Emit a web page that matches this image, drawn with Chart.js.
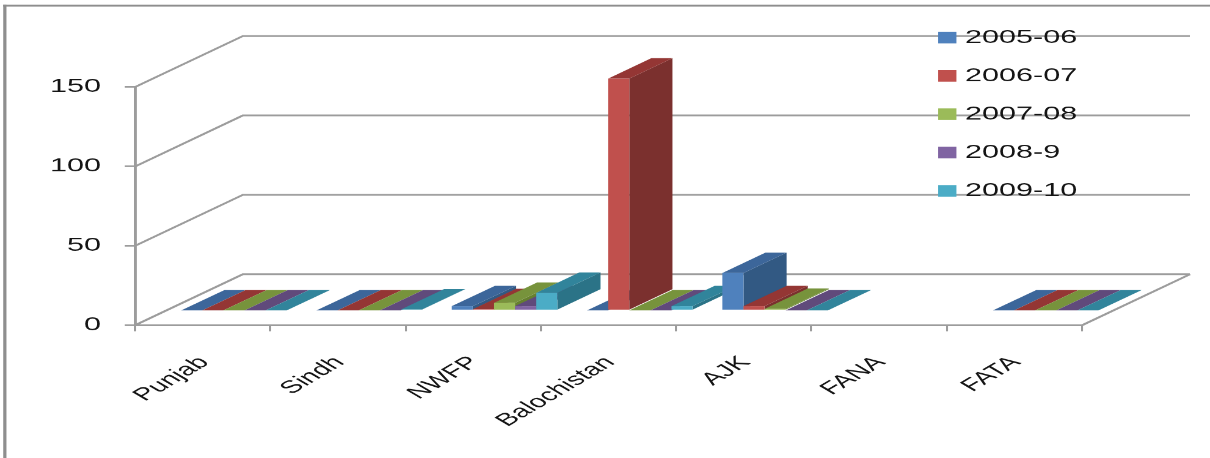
<!DOCTYPE html>
<html>
<head>
<meta charset="utf-8">
<script src="https://cdn.jsdelivr.net/npm/chart.js@4/dist/chart.umd.min.js"></script>
<style>
  html, body { margin: 0; padding: 0; background: #fff; overflow: hidden; }
  #c { display: block; width: 1210px; height: 458px; }
</style>
</head>
<body>
<canvas id="c" width="712" height="458" style="width:1210px;height:458px"></canvas>
<script>
// Provinces / regions on the category axis
const categories = ['Punjab', 'Sindh', 'NWFP', 'Balochistan', 'AJK', 'FANA', 'FATA'];

// Fiscal years (one series each)
const seriesLabels = ['2005-06', '2006-07', '2007-08', '2008-9', '2009-10'];

// Values per region for each year (FANA has no data)
const values0506 = [0, 0, 2.7, 0, 23.6, null, 0];
const values0607 = [0, 0, 0.8, 146, 2.7, null, 0];
const values0708 = [0, 0, 4.8, 0, 1, null, 0];
const values0809 = [0, 0, 2.7, 0, 0, null, 0];
const values0910 = [0, 0.6, 11.1, 2.7, 0, null, 0];

// Value axis ticks
const yTicks = [0, 50, 100, 150];

const seriesValues = [values0506, values0607, values0708, values0809, values0910];

// Face shading: front, top and right side of each column
const frontColors = ['#4F81BD', '#C0504D', '#9BBB59', '#8064A2', '#4BACC6'];
const topColors   = ['#3C669A', '#943634', '#77933C', '#604A7B', '#31849B'];
const sideColors  = ['#325983', '#7B302E', '#66802F', '#523F6A', '#2B7387'];

const GRID = '#9c9c9c';
const TEXT = '#141414';
const FONT_FAMILY = '"Liberation Sans", Arial, sans-serif';

// Oblique projection of the depth axis (canvas units; the canvas is shown 1.7x wider)
const DEPTH_X = 63.5;
const DEPTH_Y = -51;
const BAR_FRONT = 0.29;   // where the column fronts sit along the depth
const BAR_DEPTH = 0.40;   // column thickness along the depth

function poly(ctx, pts) {
  ctx.beginPath();
  ctx.moveTo(pts[0][0], pts[0][1]);
  for (let i = 1; i < pts.length; i++) ctx.lineTo(pts[i][0], pts[i][1]);
  ctx.closePath();
  ctx.fill();
}

// Draws the 3-D walls and the columns from the bar elements laid out by Chart.js
const columns3d = {
  id: 'columns3d',
  beforeDatasetsDraw(chart) {
    const { ctx, chartArea: a, scales: { x, y } } = chart;
    ctx.save();

    // back wall gridlines, left wall diagonals and floor edge
    ctx.strokeStyle = GRID;
    ctx.lineWidth = 1.7;
    ctx.beginPath();
    yTicks.forEach(v => {
      const py = y.getPixelForValue(v);
      ctx.moveTo(a.left, py);
      ctx.lineTo(a.left + DEPTH_X, py + DEPTH_Y);
      ctx.lineTo(a.right + DEPTH_X, py + DEPTH_Y);
    });
    const p0 = y.getPixelForValue(0);
    ctx.moveTo(a.right, p0);
    ctx.lineTo(a.right + DEPTH_X, p0 + DEPTH_Y);
    ctx.stroke();

    // columns, left to right so nearer neighbours cover side faces
    const ox = BAR_FRONT * DEPTH_X, oy = BAR_FRONT * DEPTH_Y;
    const dx = BAR_DEPTH * DEPTH_X, dy = BAR_DEPTH * DEPTH_Y;
    for (let i = 0; i < categories.length; i++) {
      chart.data.datasets.forEach((ds, d) => {
        const el = chart.getDatasetMeta(d).data[i];
        if (!el || ds.data[i] === null || ds.data[i] === undefined) return;
        const p = el.getProps(['x', 'y', 'base', 'width'], true);
        const l = p.x - p.width / 2 + ox;
        const r = p.x + p.width / 2 + ox;
        const t = Math.min(p.y, p.base) + oy;
        const b = Math.max(p.y, p.base) + oy;
        ctx.fillStyle = sideColors[d];
        poly(ctx, [[r, b], [r + dx, b + dy], [r + dx, t + dy], [r, t]]);
        ctx.fillStyle = topColors[d];
        poly(ctx, [[l, t], [r, t], [r + dx, t + dy], [l + dx, t + dy]]);
        ctx.fillStyle = frontColors[d];
        ctx.fillRect(l, t, r - l, b - t);
      });
    }
    ctx.restore();
    return false;
  },
  afterDraw(chart) {
    const { ctx } = chart;
    ctx.save();
    // legend
    ctx.font = '18px ' + FONT_FAMILY;
    ctx.textBaseline = 'middle';
    ctx.textAlign = 'left';
    chart.data.datasets.forEach((ds, i) => {
      const cy = 37.5 + i * 38.3;
      ctx.fillStyle = ds.backgroundColor;
      ctx.fillRect(551.8, cy - 5.8, 10.8, 11.6);
      ctx.fillStyle = TEXT;
      ctx.fillText(ds.label, 567.6, cy + 0.5);
    });
    // outer frame
    ctx.fillStyle = '#8e8e8e';
    ctx.fillRect(1.9, 4.6, 1.9, 460);
    ctx.fillRect(1.9, 4.6, 720, 2);
    ctx.restore();
  }
};

new Chart(document.getElementById('c'), {
  type: 'bar',
  data: {
    labels: categories,
    datasets: seriesLabels.map((label, i) => ({
      label,
      data: seriesValues[i],
      backgroundColor: frontColors[i]
    }))
  },
  options: {
    responsive: false,
    devicePixelRatio: 1.7,
    animation: false,
    events: [],
    layout: { padding: { top: 87, right: 75.5, left: 0, bottom: 0 } },
    datasets: { bar: { categoryPercentage: 0.78, barPercentage: 1 } },
    plugins: { legend: { display: false }, tooltip: { enabled: false }, title: { display: false } },
    scales: {
      x: {
        grid: { display: true, drawOnChartArea: false, drawTicks: true, tickLength: 6, color: GRID, lineWidth: 1.2, offset: true },
        border: { display: true, color: GRID, width: 1.7 },
        ticks: {
          minRotation: 45, maxRotation: 45, padding: 21, labelOffset: 1, autoSkip: false,
          color: TEXT, font: { family: FONT_FAMILY, size: 17.5 }
        },
        afterFit(scale) { scale.height = 133; }
      },
      y: {
        min: 0, max: 150,
        afterBuildTicks(scale) { scale.ticks = yTicks.map(v => ({ value: v })); },
        grid: { display: true, drawOnChartArea: false, drawTicks: true, tickLength: 6, color: GRID, lineWidth: 1.7 },
        border: { display: true, color: GRID, width: 1.7 },
        ticks: { padding: 14, color: TEXT, font: { family: FONT_FAMILY, size: 18 } },
        afterFit(scale) { scale.width = 79.4; }
      }
    }
  },
  plugins: [columns3d]
});
</script>
</body>
</html>
